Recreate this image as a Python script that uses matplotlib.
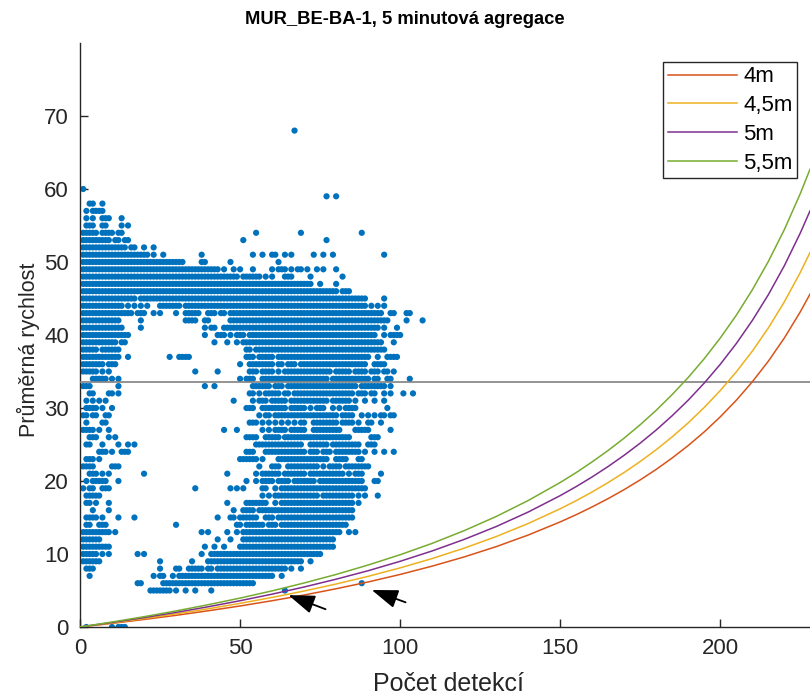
import numpy as np
import matplotlib.pyplot as plt

plt.rcParams['font.family'] = ['Liberation Sans', 'DejaVu Sans']

# průměrná rychlost (řádky bodů) a počty detekcí v každém řádku (úseky "od-do")
rychlost = [68, 60, 59, 58, 57, 56, 55, 54, 53, 52, 51, 50, 49, 48, 47, 46, 45, 44, 43, 42,
            41, 40, 39, 38, 37, 36, 35, 34, 33, 32, 31, 30, 29, 28, 27, 26, 25, 24, 23, 22,
            21, 20, 19, 18, 17, 16, 15, 14, 13, 12, 11, 10, 9, 8, 7, 6, 5, 0]
detekce = [
    "67",
    "1",
    "77,80",
    "3-4,7",
    "2,4-7",
    "2,4,7-9,13",
    "2-4,7-8,13,15",
    "1-5,7-10,12-13,55,69,88",
    "1-9,11-12,14-15,51,77",
    "1-14,16-17,20,23",
    "1-21,23,26,38,54,57,60-61,64,66,73,76,79,95",
    "1-32,38-39,47,62",
    "1-43,45,48,50,54,60,62-64,66,68-69,71,74,76,80",
    "1-49,51-56,58,60,64-66,72,82",
    "1-72,75,80",
    "1-80,82-84",
    "1-17,19-89,95",
    "1-13,15,17,19,21,25-31,33-89,91,93,95",
    "1-16,18-20,23,25,30,33-37,40-42,44-45,47-94,97-98,102-103",
    "1-12,19,33-36,39-40,47-96,102,107",
    "1-13,19,39,41-42,45-93,95,99",
    "1-15,39,43-45,47,49-51,53-92,95,97-100",
    "1-11,13-14,42,46,49,51-94,98",
    "1-5,7-12,52-53,55-95",
    "1-12,15,28,31-34,52-54,56-60,62-90,93,96-99",
    "1-7,9-11,50,53-60,62-63,65-67,69-89,92-95",
    "1-5,7,9,36,43,53-55,57-60,62,64-78,80-84,86-89,91-93,95-96,98",
    "4-8,10,12,50,52-54,57-77,79-90,92-93,96-97,103",
    "1-3,12,39,42,54-59,61-63,65-86,88-95,97",
    "3-4,9-10,12,53-54,56,58-62,64-65,67-85,87-89,91-92,95,97,101,104",
    "2,4,6,8,48,54,56-58,60-64,66-77,79-84,86,89,92,95",
    "2-5,7,10,52-54,57-64,66-70,72,74-76,79,81,83-86,96",
    "1-2,4-5,8-9,56,58-59,61-80,82-85,88,90,92,94-95,97-98",
    "2,7-8,53-55,57,59,61,63,65,67,69-70,73-80,82-85,87,90-91,94",
    "1-4,6,9,45,49,57,59,61-64,66-70,73-81,86-90,97",
    "3-5,9,11,52-55,58-62,64-84,91-93",
    "2-3,7,12,15,17,55-69,72-77,79-87,90-92",
    "6-8,10,13-15,52-54,58-70,72-74,76-78,80-87,89,92,95,98",
    "2-4,6,50-55,57,62-77,80-83,87-88",
    "1-4,10-12,56,60-62,65-74,76,78-81,83-90",
    "3-5,7,9,20,46,55,57-62,64-70,72-82,84,86-88,94",
    "2,4-8,12,52,55,57-60,62-65,67-73,75-88,92-93",
    "1,3-4,7-9,36,47,49,51,57-58,61,63-89",
    "2-6,57,59,61-74,76-85,87,89,93",
    "2-3,5,9,46,52-58,61,63-85,87",
    "4,9,48,51-54,56-85",
    "2-5,7,12,17,43,47-48,50-55,58-60,62-85",
    "2-3,6-8,30,49-50,52-57,59-61,63-83",
    "1-9,11,38,40,46,49,51-81,84,86",
    "1-6,43,47,51-79",
    "1-9,39,42,45,50-79",
    "1-5,7,9,18,20,38,41-75",
    "1-6,25,35,40-69,72",
    "2-4,25,30-31,34-38,40-41,43-64,66,69",
    "3,23,25-26,29,31-60,63",
    "18-19,26-54,88",
    "22-28,30,33,36,41,64",
    "2,10,12-14",
]

# teoretické křivky pro délky vozidel
krivka_x = [0, 10, 20, 30, 40, 50, 60, 70, 80, 90, 100, 110, 120, 130, 140, 150, 155,
            160, 165, 170, 175, 180, 185, 190, 195, 200, 205, 210, 215, 220, 225, 228]
krivka_4m = [0, 0.50, 1.03, 1.60, 2.22, 2.88, 3.60, 4.38, 5.24, 6.17, 7.20, 8.34, 9.60,
             11.01, 12.60, 14.40, 15.39, 16.46, 17.60, 18.83, 20.16, 21.60, 23.17, 24.87,
             26.74, 28.80, 31.07, 33.60, 36.42, 39.60, 43.20, 45.60]
krivka_45m = [0, 0.56, 1.16, 1.80, 2.49, 3.24, 4.05, 4.93, 5.89, 6.94, 8.10, 9.38, 10.80,
              12.39, 14.18, 16.20, 17.31, 18.51, 19.80, 21.18, 22.68, 24.30, 26.06, 27.98,
              30.09, 32.40, 34.96, 37.80, 40.97, 44.55, 48.60, 51.30]
krivka_5m = [0, 0.62, 1.29, 2.00, 2.77, 3.60, 4.50, 5.48, 6.55, 7.71, 9.00, 10.42, 12.00,
             13.76, 15.75, 18.00, 19.24, 20.57, 22.00, 23.54, 25.20, 27.00, 28.96, 31.09,
             33.43, 36.00, 38.84, 42.00, 45.53, 49.50, 54.00, 57.00]
krivka_55m = [0, 0.68, 1.41, 2.20, 3.05, 3.96, 4.95, 6.03, 7.20, 8.49, 9.90, 11.46, 13.20,
              15.14, 17.33, 19.80, 21.16, 22.63, 24.20, 25.89, 27.72, 29.70, 31.86, 34.20,
              36.77, 39.60, 42.72, 46.20, 50.08, 54.45, 59.40, 62.70]
legenda = ['4m', '4,5m', '5m', '5,5m']
barvy = ['#D95319', '#EDB120', '#7E2F8E', '#77AC30']

hranice = 33.6

# rozbalení úseků na jednotlivé body
xs, ys = [], []
for v, runs in zip(rychlost, detekce):
    for part in runs.split(','):
        if '-' in part:
            a, b = part.split('-')
            n = list(range(int(a), int(b) + 1))
        else:
            n = [int(part)]
        xs += n
        ys += [v] * len(n)

fig = plt.figure(figsize=(8.1, 6.94), dpi=100)
ax = fig.add_axes([80 / 810, 67 / 694, 730 / 810, 584 / 694])

ax.scatter(xs, ys, s=20, color='#0072BD', edgecolors='none', zorder=2)
ax.axhline(hranice, color='#808080', lw=1.2, zorder=3)

for yv, lab, c in zip([krivka_4m, krivka_45m, krivka_5m, krivka_55m], legenda, barvy):
    ax.plot(krivka_x, yv, color=c, lw=1.1, label=lab, zorder=4)

# šipky
sipka = dict(arrowstyle='-|>,head_length=0.9,head_width=0.32',
             color='k', lw=1.3, mutation_scale=18)
ax.annotate('', xy=(64.3, 4.5), xytext=(77.5, 2.3), arrowprops=sipka, zorder=5)
ax.annotate('', xy=(90.3, 5.2), xytext=(102.5, 3.25), arrowprops=sipka, zorder=5)

ax.set_xlim(0, 228)
ax.set_ylim(0, 80)
ax.set_xticks([0, 50, 100, 150, 200])
ax.set_yticks(range(0, 80, 10))
ax.tick_params(direction='in', length=6, width=1, labelsize=16, colors='#262626', pad=8)
for s in ['top', 'right']:
    ax.spines[s].set_visible(False)
for s in ['left', 'bottom']:
    ax.spines[s].set_color('#262626')
    ax.spines[s].set_linewidth(1)

ax.set_xlabel('Počet detekcí', fontsize=18, color='#262626')
ax.set_ylabel('Průměrná rychlost', fontsize=15.5, color='#262626')
ax.xaxis.label.set_va('center')
ax.yaxis.label.set_va('center')
ax.xaxis.set_label_coords(0.505, -0.097)
ax.yaxis.set_label_coords(-0.071, 0.474)
fig.text(0.5, 1 - 20 / 694, 'MUR_BE-BA-1, 5 minutová agregace', ha='center', va='center',
         fontsize=13.2, fontweight='bold')

leg = ax.legend(loc='upper right', bbox_to_anchor=(797 / 810, 1 - 62 / 694),
                bbox_transform=fig.transFigure, fontsize=16, handlelength=3.1,
                handletextpad=0.3, labelspacing=0.35, borderpad=0.2, borderaxespad=0,
                fancybox=False, framealpha=1)
leg.get_frame().set_edgecolor('#262626')
leg.get_frame().set_linewidth(1)

fig.savefig('out.png', dpi=100)
